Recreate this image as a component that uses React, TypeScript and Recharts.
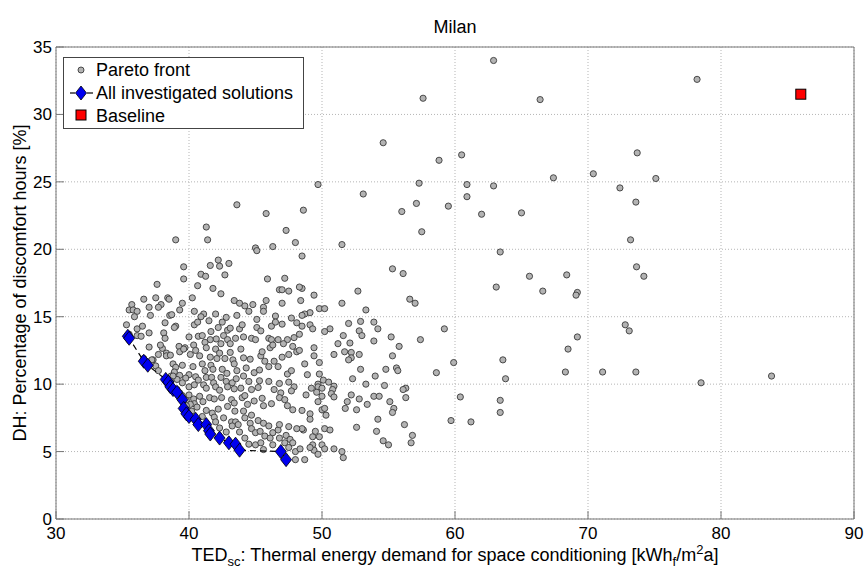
import React from 'react';
import { ScatterChart, Scatter, XAxis, YAxis, CartesianGrid } from 'recharts';

// axis ticks
const xTicks = [30, 40, 50, 60, 70, 80, 90];
const yTicks = [0, 5, 10, 15, 20, 25, 30, 35];

// sparse solutions, upper / right part of the cloud
const farPoints: [number, number][] = [
  [62.9, 34.0], [57.6, 31.2], [66.4, 31.1], [54.6, 27.9], [58.8, 26.6], [60.5, 27.0],
  [67.4, 25.3], [70.4, 25.6], [49.7, 24.8], [57.3, 24.9], [60.9, 24.8], [62.9, 24.7],
  [53.1, 24.1], [57.1, 23.4], [60.9, 23.9], [56.0, 22.8], [59.5, 23.2], [62.0, 22.6],
  [65.0, 22.7], [48.6, 22.9],
  [78.2, 32.6], [73.7, 27.15], [75.1, 25.25], [72.4, 24.55], [73.6, 23.5], [73.2, 20.7],
  [73.65, 18.7], [74.2, 18.0], [72.8, 14.4], [73.1, 13.95], [71.1, 10.9], [73.6, 10.9],
  [78.5, 10.1], [83.8, 10.6],
];

// solutions between 48 and 71 kWh
const midPoints: [number, number][] = [
  [57.5, 21.3], [51.5, 20.35], [63.4, 19.8], [48.5, 19.5], [55.3, 18.55], [56.1, 18.2],
  [65.6, 18.0], [68.4, 18.1], [63.1, 17.2], [66.6, 16.9], [69.2, 16.8], [69.1, 16.6],
  [52.7, 16.9], [49.4, 16.6], [48.5, 17.1], [48.4, 16.2], [56.6, 16.3], [57.0, 16.0],
  [51.5, 16.0], [53.3, 15.5], [49.8, 15.6], [50.2, 15.6], [49.1, 15.3], [48.7, 15.2],
  [48.5, 15.1], [52.9, 14.65], [52.0, 14.5], [53.9, 14.6], [54.2, 14.1], [50.6, 14.1],
  [50.2, 13.9], [49.1, 14.4], [49.3, 14.1], [48.5, 14.3], [52.8, 13.95], [53.0, 13.6],
  [51.6, 13.6], [59.2, 14.1], [55.2, 13.5], [53.9, 13.2], [57.4, 13.3], [51.2, 13.0],
  [52.1, 13.05], [55.8, 12.8], [49.4, 12.7], [51.7, 12.4], [52.2, 12.35], [52.8, 12.2],
  [50.9, 12.2], [49.4, 12.1], [52.2, 11.95], [52.0, 11.8], [55.3, 12.1], [49.8, 11.6],
  [48.7, 11.5], [59.9, 11.6], [63.6, 11.8], [68.5, 12.6], [69.2, 13.5], [68.3, 10.9],
  [63.8, 10.4], [58.6, 10.85], [55.6, 11.2], [55.7, 11.0], [54.8, 11.1], [54.0, 10.6],
  [52.9, 11.1], [52.3, 10.4], [48.9, 10.7], [49.8, 10.75], [50.1, 10.3], [50.5, 10.15],
  [50.9, 9.85], [50.8, 9.6], [50.7, 9.3], [50.9, 9.05], [49.7, 10.0], [49.7, 9.8],
  [50.0, 9.7], [49.2, 9.7], [48.8, 9.2], [49.6, 9.4], [50.0, 9.1], [49.7, 8.7],
  [53.3, 10.0], [54.7, 9.9], [56.3, 9.7], [56.1, 9.6], [56.3, 9.0], [52.2, 9.2],
  [51.9, 8.7], [52.8, 8.9], [53.4, 8.5], [53.9, 9.1], [54.3, 9.1], [55.1, 8.7],
  [55.4, 8.2], [55.3, 7.9], [51.75, 8.2], [52.6, 8.1], [50.0, 8.1], [50.2, 8.2],
  [50.3, 7.7], [48.5, 8.05], [49.1, 7.8], [49.1, 7.4], [54.2, 7.4], [52.6, 6.8],
  [56.2, 7.0], [54.1, 6.5], [54.6, 5.8], [55.0, 5.5], [56.8, 6.2], [56.7, 5.65],
  [59.7, 7.3], [61.2, 7.2], [60.4, 9.05], [63.4, 8.8], [63.4, 7.9], [50.2, 6.7],
  [50.6, 6.6], [48.6, 6.6], [48.5, 6.7], [49.3, 6.1], [49.5, 6.5], [49.8, 6.1],
  [49.3, 5.5], [50.0, 5.5], [50.2, 5.2], [50.9, 5.2], [51.5, 5.0], [51.6, 4.55],
  [49.4, 5.1], [49.7, 4.8], [48.7, 4.4], [49.1, 5.3],
];

// upper edge of the main cluster
const upperCluster: [number, number][] = [
  [43.6, 23.3], [45.8, 22.65], [41.3, 21.65], [47.3, 21.4], [39.0, 20.7], [41.4, 20.7],
  [48.0, 20.5], [45.0, 20.1], [45.1, 19.9], [46.3, 20.2], [42.2, 19.2], [43.0, 18.95],
  [42.3, 18.75], [41.6, 18.8], [39.6, 18.7], [40.9, 18.15], [41.25, 18.0], [42.7, 18.1],
  [45.9, 17.8], [47.2, 17.85], [39.6, 17.8],
];

// dense part of the cloud, 35 to 48 kWh
const denseCluster: [number, number][] = [
  [41.8, 17.1], [40.65, 17.3], [46.8, 17.0], [47.0, 17.0], [47.5, 16.9], [48.3, 17.2],
  [37.6, 17.4], [36.6, 16.3], [37.5, 16.4], [38.4, 16.4], [38.5, 16.3], [37.0, 15.7],
  [37.9, 15.9], [37.7, 15.7], [35.7, 15.9], [35.5, 15.5], [35.8, 15.5], [36.1, 15.4],
  [35.9, 15.0], [37.1, 15.1], [38.55, 15.1], [38.7, 15.15], [39.3, 15.5], [39.5, 16.0],
  [40.25, 16.4], [42.4, 16.7], [43.4, 16.2], [43.8, 16.0], [44.2, 15.8], [44.8, 15.9],
  [44.5, 15.4], [45.6, 15.7], [45.6, 15.4], [45.8, 16.2], [47.0, 16.0], [40.4, 15.4],
  [41.1, 15.2], [40.9, 15.0], [42.0, 15.2], [42.8, 14.95], [43.6, 15.1], [45.1, 14.8],
  [46.5, 15.05], [47.7, 14.9],
  [35.3, 14.4], [36.1, 14.1], [36.5, 14.3], [38.2, 14.55], [38.1, 13.8], [39.0, 14.3],
  [38.9, 14.2], [40.4, 14.4], [40.65, 14.6], [41.5, 14.7], [42.5, 14.6], [42.2, 14.2],
  [42.9, 14.0], [43.1, 14.15], [43.8, 14.1], [44.0, 14.4], [45.1, 14.2], [45.4, 13.95],
  [46.2, 14.3], [46.5, 14.6], [47.0, 14.45], [48.1, 14.55],
  [35.5, 13.7], [36.1, 13.6], [36.4, 13.55], [37.0, 13.8], [38.2, 13.4], [40.0, 13.5],
  [40.7, 13.55], [41.0, 13.6], [41.65, 13.9], [41.6, 13.3], [42.05, 13.35], [42.6, 13.6],
  [42.9, 13.3], [43.5, 13.4], [44.1, 13.5], [44.7, 13.4], [45.0, 13.3], [46.0, 13.4],
  [46.2, 13.3], [46.7, 13.3], [47.4, 13.3], [47.9, 13.45], [48.3, 13.7], [39.25, 12.8],
  [40.35, 12.9], [41.2, 13.1], [42.4, 13.0], [43.1, 13.0], [43.9, 12.6], [46.1, 12.7],
  [46.3, 12.9], [47.1, 13.0], [47.8, 12.8], [37.0, 12.75],
  [38.0, 12.65], [38.3, 12.3], [38.3, 12.1], [38.6, 12.15], [39.3, 12.4], [39.7, 12.7],
  [39.6, 12.6], [40.1, 12.2], [40.5, 12.5], [40.8, 12.1], [41.3, 12.7], [41.6, 12.0],
  [42.0, 12.6], [42.1, 11.9], [42.3, 12.3], [42.7, 11.9], [43.1, 12.35], [43.3, 11.8],
  [43.4, 11.5], [44.1, 11.95], [44.6, 11.85], [45.4, 12.1], [45.5, 12.4], [45.7, 11.7],
  [46.4, 11.7], [46.7, 11.3], [47.0, 12.0], [47.5, 12.2], [48.1, 12.4], [48.3, 12.5],
  [37.3, 11.8], [37.5, 11.35], [37.7, 11.0], [38.8, 11.5], [39.0, 11.25], [39.5, 11.4],
  [40.3, 11.3], [41.0, 11.5], [41.2, 11.0], [41.65, 11.4], [41.8, 11.1], [42.5, 11.1],
  [42.85, 10.8], [43.6, 11.0], [44.3, 11.2], [44.9, 10.85], [45.3, 11.05], [46.0, 11.3],
  [47.4, 10.75], [47.7, 11.0],
  [38.9, 10.9], [38.65, 10.6], [39.3, 10.65], [40.0, 10.7], [39.75, 10.45], [40.5, 10.55],
  [40.7, 10.3], [41.3, 10.5], [41.7, 10.5], [41.85, 10.1], [42.4, 10.5], [42.8, 10.2],
  [43.25, 10.1], [43.55, 10.4], [44.1, 10.6], [44.5, 10.2], [45.3, 10.25], [46.0, 10.2],
  [46.8, 10.05], [47.5, 10.15], [47.9, 9.8], [40.0, 9.8], [40.4, 9.95], [41.1, 9.95],
  [41.3, 9.7], [42.0, 9.8], [42.3, 9.55], [42.9, 9.8], [43.4, 9.65], [43.9, 9.7],
  [44.7, 9.6], [45.2, 9.75], [46.4, 9.6], [46.9, 9.35], [47.7, 9.5], [39.1, 10.35],
  [39.5, 10.1],
  [39.5, 9.15], [40.0, 9.2], [40.35, 8.9], [40.4, 8.55], [40.8, 9.1], [41.05, 8.7],
  [41.55, 9.0], [41.9, 8.9], [42.45, 9.0], [43.2, 8.85], [43.4, 8.6], [44.0, 9.0],
  [44.2, 9.15], [44.4, 8.5], [44.9, 8.75], [45.5, 8.95], [45.6, 8.4], [46.2, 8.55],
  [46.8, 9.0], [47.2, 8.85], [47.4, 8.4], [47.8, 8.1], [40.6, 8.3], [40.2, 8.0],
  [41.3, 8.05], [41.75, 7.85], [42.2, 8.15], [42.9, 8.35], [43.45, 8.0], [44.1, 8.0],
  [44.7, 7.7],
  [41.0, 7.6], [41.9, 7.55], [42.0, 7.2], [42.6, 7.5], [43.2, 7.2], [43.5, 7.2],
  [43.7, 7.0], [44.2, 7.5], [44.6, 7.1], [45.2, 7.3], [45.6, 7.1], [46.0, 6.9],
  [46.3, 6.4], [46.7, 6.6], [46.8, 7.0], [47.5, 6.85], [48.1, 6.7], [42.3, 6.75],
  [42.8, 6.45], [43.25, 6.9], [43.8, 6.45], [44.7, 6.7], [45.0, 6.4], [45.35, 6.5],
  [45.7, 6.15], [46.1, 6.0], [46.8, 6.0], [47.3, 6.2], [47.6, 5.9], [47.8, 5.65],
  [44.2, 6.0], [44.5, 5.55], [45.0, 5.5], [45.4, 5.65], [46.3, 5.5], [47.2, 5.65],
  [47.5, 5.3], [48.0, 5.0], [48.35, 5.2], [48.0, 4.4], [45.6, 5.15],
  [38.8, 10.6], [38.6, 10.25], [39.1, 9.6], [39.3, 9.35], [39.8, 8.8], [40.1, 8.5],
  [39.8, 8.4], [36.6, 11.9], [37.2, 11.8], [37.7, 12.2], [37.85, 12.9],
];

// pareto-optimal solutions, ordered along the front
const paretoFront: [number, number][] = [
  [35.4, 13.55], [35.5, 13.4], [36.6, 11.7], [36.9, 11.4], [38.25, 10.35], [38.45, 10.15],
  [38.6, 9.8], [38.8, 9.6], [39.1, 9.4], [39.5, 8.85], [39.6, 8.2], [39.8, 7.8],
  [40.0, 7.6], [40.5, 7.4], [40.7, 7.0], [41.3, 7.0], [41.5, 6.55], [41.6, 6.3],
  [42.3, 6.0], [43.0, 5.65], [43.5, 5.55], [43.8, 5.1], [46.9, 5.0], [47.3, 4.4],
];

const baselinePoint: [number, number][] = [[86.0, 31.5]];

const toXY = (pts: [number, number][]) => pts.map(([x, y]) => ({ x, y }));

const allData = toXY([...farPoints, ...midPoints, ...upperCluster, ...denseCluster]);
const paretoData = toXY(paretoFront);
const baselineData = toXY(baselinePoint);

const FONT = '"Liberation Sans", Arial, Helvetica, sans-serif';
const FRAME = '#777';

const GrayDot = (p: any) => (
  <circle cx={p.cx} cy={p.cy} r={3.1} fill="#b3b3b3" stroke="#3a3a3a" strokeWidth={0.9} />
);

const BlueDiamond = (p: any) => (
  <polygon
    points={`${p.cx},${p.cy - 7} ${p.cx + 5.5},${p.cy} ${p.cx},${p.cy + 7} ${p.cx - 5.5},${p.cy}`}
    fill="#0000f0"
    stroke="#000"
    strokeWidth={0.8}
  />
);

const RedSquare = (p: any) => (
  <rect x={p.cx - 5} y={p.cy - 5} width={10} height={10} fill="#ff0000" stroke="#000" strokeWidth={1} />
);

// ticks point into the plot, labels sit outside
const BottomTick = (p: any) => (
  <g>
    <line x1={p.x} x2={p.x} y1={p.y} y2={p.y - 8} stroke={FRAME} />
    <text x={p.x} y={p.y + 20} textAnchor="middle" fontSize={17} fontFamily={FONT} fill="#000">
      {p.payload.value}
    </text>
  </g>
);
const TopTick = (p: any) => <line x1={p.x} x2={p.x} y1={p.y} y2={p.y + 8} stroke={FRAME} />;
const LeftTick = (p: any) => (
  <g>
    <line x1={p.x} x2={p.x + 8} y1={p.y} y2={p.y} stroke={FRAME} />
    <text x={p.x - 4} y={p.y + 6} textAnchor="end" fontSize={17} fontFamily={FONT} fill="#000">
      {p.payload.value}
    </text>
  </g>
);
const RightTick = (p: any) => <line x1={p.x} x2={p.x - 8} y1={p.y} y2={p.y} stroke={FRAME} />;

const subStyle: React.CSSProperties = { fontSize: 13, position: 'relative', top: 5 };
const supStyle: React.CSSProperties = { fontSize: 13, position: 'relative', top: -7 };

export default function App() {
  return (
    <div style={{ position: 'absolute', left: 0, top: 0, width: 864, height: 570, background: '#fff', fontFamily: FONT }}>
      <ScatterChart width={864} height={570} margin={{ top: 46, right: 9, bottom: 21, left: 16 }}>
        <CartesianGrid stroke="#b5b5b5" strokeDasharray="1 2" />
        <XAxis type="number" dataKey="x" domain={[30, 90]} ticks={xTicks} interval={0} height={30}
          tickSize={0} tickMargin={0} tickLine={false} axisLine={{ stroke: FRAME }} tick={BottomTick} />
        <XAxis xAxisId="top" orientation="top" type="number" dataKey="x" domain={[30, 90]} ticks={xTicks}
          interval={0} height={1} tickSize={0} tickMargin={0} tickLine={false} axisLine={{ stroke: FRAME }} tick={TopTick} />
        <YAxis type="number" dataKey="y" domain={[0, 35]} ticks={yTicks} interval={0} width={40}
          tickSize={0} tickMargin={0} tickLine={false} axisLine={{ stroke: FRAME }} tick={LeftTick} />
        <YAxis yAxisId="right" orientation="right" type="number" dataKey="y" domain={[0, 35]} ticks={yTicks}
          interval={0} width={1} tickSize={0} tickMargin={0} tickLine={false} axisLine={{ stroke: FRAME }} tick={RightTick} />
        <Scatter data={allData} shape={GrayDot} isAnimationActive={false} />
        <Scatter data={paretoData} shape={BlueDiamond} isAnimationActive={false}
          line={{ stroke: '#000', strokeWidth: 1.2, strokeDasharray: '6 4' }} lineType="joint" />
        <Scatter data={baselineData} shape={RedSquare} isAnimationActive={false} />
      </ScatterChart>

      <div style={{ position: 'absolute', left: 56, width: 798, top: 18, textAlign: 'center', fontSize: 18, lineHeight: '18px' }}>
        Milan
      </div>
      <div style={{ position: 'absolute', left: 56, width: 798, top: 546, textAlign: 'center', fontSize: 18, lineHeight: '18px', whiteSpace: 'nowrap' }}>
        TED<span style={subStyle}>sc</span>: Thermal energy demand for space conditioning [kWh<span style={subStyle}>f</span>/m<span style={supStyle}>2</span>a]
      </div>
      <div style={{ position: 'absolute', left: 20 - 236, top: 283 - 9, width: 472, height: 18, textAlign: 'center', fontSize: 18, lineHeight: '18px', transform: 'rotate(-90deg)', whiteSpace: 'nowrap' }}>
        DH: Percentage of discomfort hours [%]
      </div>

      <svg style={{ position: 'absolute', left: 63, top: 57 }} width={241} height={72}>
        <rect x={0.5} y={0.5} width={240} height={71} fill="#fff" stroke="#444" />
        <circle cx={18} cy={13} r={3} fill="#b3b3b3" stroke="#3a3a3a" strokeWidth={0.9} />
        <text x={33} y={19} fontSize={18} fontFamily={FONT}>Pareto front</text>
        <line x1={7} x2={12} y1={36} y2={36} stroke="#000" strokeWidth={1.2} />
        <line x1={24} x2={30} y1={36} y2={36} stroke="#000" strokeWidth={1.2} />
        <polygon points="18,29 23.5,36 18,43 12.5,36" fill="#0000f0" stroke="#000" strokeWidth={0.8} />
        <text x={33} y={42} fontSize={18} fontFamily={FONT}>All investigated solutions</text>
        <rect x={13} y={53} width={10} height={10} fill="#ff0000" stroke="#000" />
        <text x={33} y={65} fontSize={18} fontFamily={FONT}>Baseline</text>
      </svg>
    </div>
  );
}
